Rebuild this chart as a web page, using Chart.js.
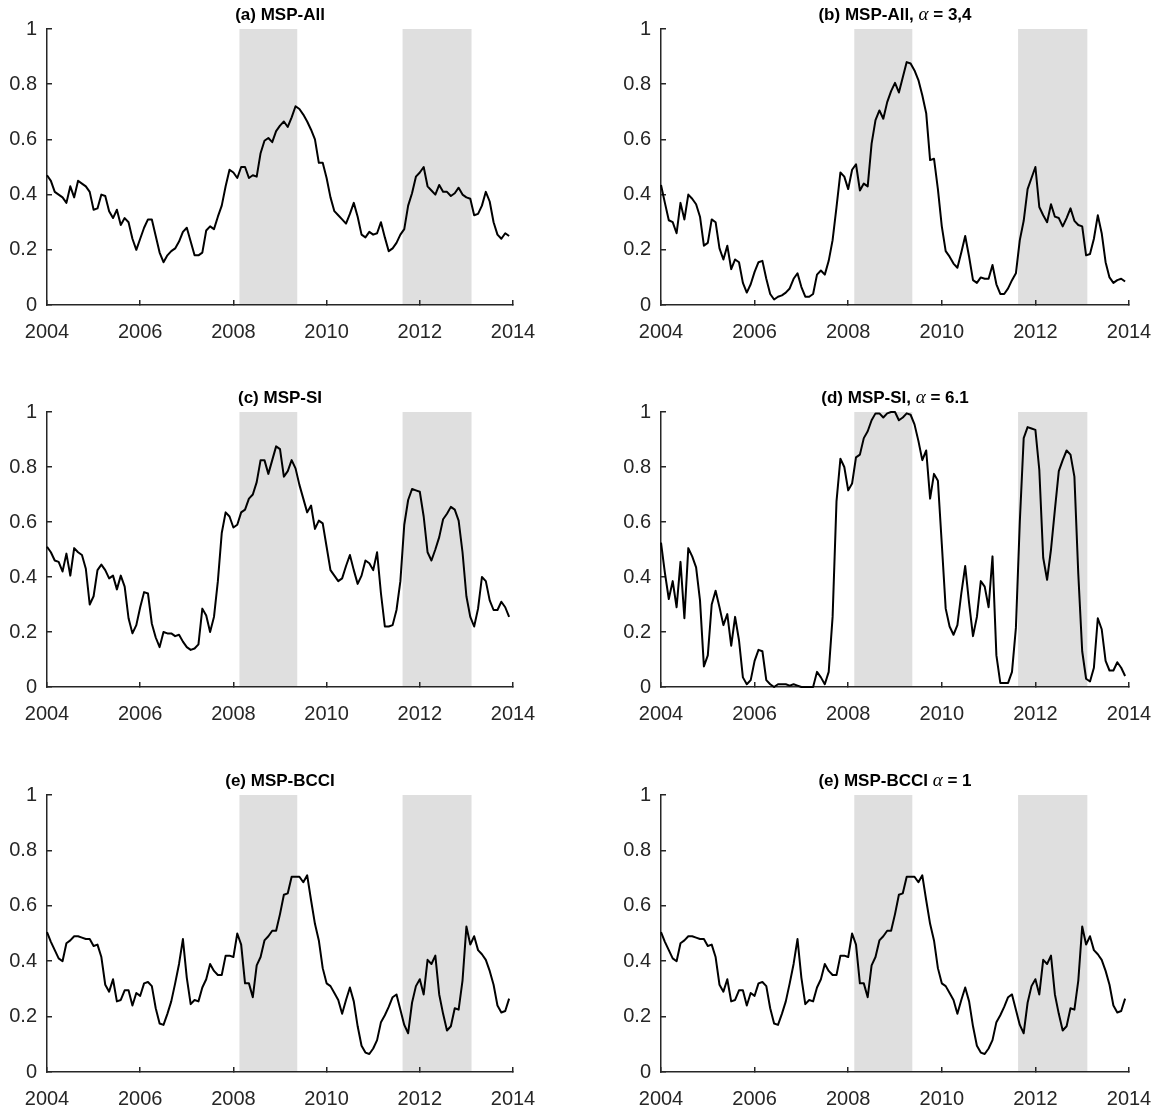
<!DOCTYPE html>
<html><head><meta charset="utf-8">
<script src="https://cdn.jsdelivr.net/npm/chart.js@4.4.1/dist/chart.umd.min.js"></script>
<style>
html,body{margin:0;padding:0;background:#fff;}
#wrap{position:relative;width:1153px;height:1109px;overflow:hidden;background:#fff;}
canvas{position:absolute;}
</style></head><body><div id="wrap"></div>
<script>
// ---- categories (monthly, Jan 2004 .. Dec 2013) ----
const months = [];
for (let i = 0; i < 120; i++) months.push(2004 + i / 12);

// ---- tick labels ----
const xTicks = [2004, 2006, 2008, 2010, 2012, 2014];
const yTicks = [0, 0.2, 0.4, 0.6, 0.8, 1];
const yTickLabels = ['0', '0.2', '0.4', '0.6', '0.8', '1'];

// ---- shaded periods ----
const shadeStart = [2008.13, 2011.63];
const shadeEnd = [2009.37, 2013.11];

// ---- series ----
const mspAll = [
  0.47, 0.45, 0.41, 0.40, 0.39, 0.37, 0.43, 0.39, 0.45, 0.44,
  0.43, 0.41, 0.345, 0.35, 0.40, 0.395, 0.34, 0.315, 0.345, 0.29,
  0.315, 0.30, 0.24, 0.20, 0.24, 0.28, 0.31, 0.31, 0.25, 0.19,
  0.155, 0.18, 0.195, 0.205, 0.23, 0.265, 0.28, 0.23, 0.18, 0.18,
  0.19, 0.27, 0.285, 0.275, 0.32, 0.36, 0.43, 0.49, 0.48, 0.46,
  0.50, 0.50, 0.46, 0.47, 0.465, 0.55, 0.595, 0.605, 0.59, 0.63,
  0.65, 0.665, 0.645, 0.68, 0.72, 0.71, 0.69, 0.665, 0.635, 0.60,
  0.515, 0.515, 0.46, 0.39, 0.34, 0.325, 0.31, 0.295, 0.33, 0.37,
  0.32, 0.255, 0.245, 0.265, 0.255, 0.26, 0.30, 0.245, 0.195, 0.205,
  0.225, 0.255, 0.275, 0.36, 0.405, 0.465, 0.48, 0.50, 0.43, 0.415,
  0.40, 0.435, 0.41, 0.41, 0.395, 0.405, 0.425, 0.40, 0.39, 0.385,
  0.325, 0.33, 0.36, 0.41, 0.375, 0.30, 0.255, 0.24, 0.26, 0.25
];
const mspAllAlpha = [
  0.435, 0.37, 0.307, 0.30, 0.26, 0.37, 0.31, 0.40, 0.385, 0.365,
  0.32, 0.215, 0.225, 0.31, 0.30, 0.205, 0.165, 0.215, 0.13, 0.165,
  0.155, 0.08, 0.045, 0.075, 0.12, 0.155, 0.16, 0.095, 0.04, 0.02,
  0.03, 0.035, 0.045, 0.06, 0.095, 0.115, 0.065, 0.03, 0.03, 0.04,
  0.11, 0.125, 0.11, 0.16, 0.235, 0.355, 0.48, 0.465, 0.42, 0.49,
  0.51, 0.415, 0.44, 0.43, 0.585, 0.67, 0.705, 0.675, 0.735, 0.775,
  0.805, 0.77, 0.825, 0.88, 0.875, 0.85, 0.815, 0.76, 0.695, 0.525,
  0.53, 0.42, 0.285, 0.195, 0.175, 0.15, 0.135, 0.19, 0.25, 0.175,
  0.09, 0.08, 0.10, 0.095, 0.095, 0.145, 0.075, 0.04, 0.04, 0.06,
  0.09, 0.115, 0.235, 0.305, 0.42, 0.46, 0.50, 0.355, 0.325, 0.30,
  0.365, 0.32, 0.315, 0.285, 0.315, 0.35, 0.305, 0.29, 0.285, 0.18,
  0.185, 0.24, 0.325, 0.26, 0.155, 0.10, 0.08, 0.09, 0.095, 0.085
];
const mspSI = [
  0.51, 0.49, 0.46, 0.455, 0.42, 0.485, 0.405, 0.505, 0.49, 0.48,
  0.43, 0.30, 0.33, 0.425, 0.445, 0.425, 0.395, 0.405, 0.355, 0.405,
  0.365, 0.25, 0.195, 0.225, 0.29, 0.345, 0.34, 0.23, 0.18, 0.145,
  0.20, 0.195, 0.195, 0.185, 0.19, 0.165, 0.145, 0.135, 0.14, 0.155,
  0.285, 0.26, 0.20, 0.255, 0.385, 0.56, 0.635, 0.62, 0.58, 0.59,
  0.635, 0.645, 0.685, 0.70, 0.745, 0.825, 0.825, 0.775, 0.825, 0.875,
  0.865, 0.765, 0.785, 0.825, 0.795, 0.735, 0.685, 0.635, 0.66, 0.575,
  0.605, 0.595, 0.51, 0.425, 0.405, 0.385, 0.395, 0.44, 0.48, 0.425,
  0.375, 0.405, 0.46, 0.45, 0.425, 0.49, 0.34, 0.22, 0.22, 0.225,
  0.28, 0.385, 0.59, 0.68, 0.72, 0.715, 0.71, 0.62, 0.49, 0.46,
  0.50, 0.545, 0.61, 0.63, 0.655, 0.645, 0.605, 0.49, 0.33, 0.255,
  0.22, 0.285, 0.40, 0.385, 0.315, 0.28, 0.28, 0.31, 0.29, 0.255
];
const mspSIAlpha = [
  0.525, 0.415, 0.32, 0.385, 0.29, 0.455, 0.25, 0.505, 0.475, 0.435,
  0.315, 0.075, 0.115, 0.30, 0.35, 0.29, 0.225, 0.265, 0.15, 0.255,
  0.17, 0.035, 0.01, 0.025, 0.095, 0.135, 0.13, 0.025, 0.01, 0.0,
  0.01, 0.01, 0.01, 0.005, 0.01, 0.005, 0.0, 0.0, 0.0, 0.0,
  0.055, 0.035, 0.01, 0.055, 0.255, 0.675, 0.83, 0.80, 0.715, 0.74,
  0.835, 0.845, 0.905, 0.93, 0.97, 0.995, 0.995, 0.98, 0.995, 1.0,
  1.0, 0.97, 0.98, 0.995, 0.99, 0.955, 0.895, 0.825, 0.86, 0.685,
  0.775, 0.75, 0.52, 0.285, 0.22, 0.19, 0.225, 0.34, 0.44, 0.305,
  0.185, 0.255, 0.385, 0.365, 0.29, 0.475, 0.115, 0.015, 0.015, 0.015,
  0.055, 0.215, 0.60, 0.905, 0.945, 0.94, 0.935, 0.79, 0.47, 0.39,
  0.50, 0.645, 0.785, 0.825, 0.86, 0.845, 0.765, 0.41, 0.13, 0.03,
  0.02, 0.07, 0.25, 0.21, 0.095, 0.06, 0.06, 0.09, 0.07, 0.04
];
const mspBCCI = [
  0.505, 0.47, 0.44, 0.41, 0.40, 0.465, 0.475, 0.49, 0.49, 0.485,
  0.48, 0.48, 0.455, 0.46, 0.415, 0.315, 0.29, 0.335, 0.255, 0.26,
  0.295, 0.295, 0.24, 0.285, 0.275, 0.32, 0.325, 0.31, 0.23, 0.175,
  0.17, 0.21, 0.255, 0.32, 0.39, 0.48, 0.34, 0.245, 0.26, 0.255,
  0.305, 0.335, 0.39, 0.365, 0.35, 0.35, 0.42, 0.42, 0.415, 0.50,
  0.46, 0.32, 0.32, 0.27, 0.385, 0.415, 0.475, 0.49, 0.51, 0.51,
  0.57, 0.64, 0.645, 0.705, 0.705, 0.705, 0.685, 0.71, 0.62, 0.535,
  0.475, 0.375, 0.32, 0.31, 0.285, 0.26, 0.21, 0.26, 0.305, 0.255,
  0.165, 0.095, 0.07, 0.065, 0.085, 0.115, 0.18, 0.205, 0.235, 0.27,
  0.28, 0.225, 0.17, 0.14, 0.25, 0.31, 0.335, 0.28, 0.405, 0.39,
  0.42, 0.28, 0.21, 0.15, 0.165, 0.23, 0.225, 0.33, 0.525, 0.46,
  0.49, 0.44, 0.425, 0.405, 0.365, 0.315, 0.24, 0.215, 0.22, 0.265
];
const mspBCCIAlpha1 = mspBCCI.slice(); // panel looks identical in the reference

// ---- titles (text parts; b = bold sans, a = italic greek) ----
const titleTexts = [
  [['b', '(a) MSP-All']],
  [['b', '(b) MSP-All, '], ['a', '\u03b1'], ['b', ' = 3,4']],
  [['b', '(c) MSP-SI']],
  [['b', '(d) MSP-SI, '], ['a', '\u03b1'], ['b', ' = 6.1']],
  [['b', '(e) MSP-BCCI']],
  [['b', '(e) MSP-BCCI '], ['a', '\u03b1'], ['b', ' = 1']]
];
const seriesList = [mspAll, mspAllAlpha, mspSI, mspSIAlpha, mspBCCI, mspBCCIAlpha1];

// ---- layout ----
const colGeom = [
  {left: 0, width: 576, yW: 47, padR: 63},
  {left: 576, width: 577, yW: 85, padR: 24}
];
const rowGeom = [
  {top: 0, height: 383, bottom: 305},
  {top: 383, height: 383, bottom: 304},
  {top: 766, height: 343, bottom: 306}
];
const FONT_B = 'bold 17px "Liberation Sans", Arial, sans-serif';
const FONT_A = 'italic 19px "Liberation Serif", "DejaVu Serif", serif';

const shadePlugin = {
  id: 'shade',
  beforeDraw(chart) {
    const {ctx, chartArea: a, scales: {x}} = chart;
    ctx.save();
    ctx.fillStyle = '#dfdfdf';
    for (let k = 0; k < shadeStart.length; k++) {
      const x1 = x.getPixelForValue(shadeStart[k]);
      const x2 = x.getPixelForValue(shadeEnd[k]);
      ctx.fillRect(x1, a.top, x2 - x1, a.bottom - a.top);
    }
    ctx.restore();
  }
};
const titlePlugin = {
  id: 'mtitle',
  afterDraw(chart, args, opts) {
    const parts = opts.parts || [];
    const {ctx, chartArea: a} = chart;
    ctx.save();
    let total = 0;
    const widths = parts.map(p => {
      ctx.font = p[0] === 'a' ? FONT_A : FONT_B;
      const w = ctx.measureText(p[1]).width;
      total += w;
      return w;
    });
    let x = (a.left + a.right) / 2 - total / 2;
    const y = a.top - 9;
    ctx.fillStyle = '#000';
    ctx.textBaseline = 'alphabetic';
    ctx.textAlign = 'left';
    parts.forEach((p, i) => {
      ctx.font = p[0] === 'a' ? FONT_A : FONT_B;
      ctx.fillText(p[1], x, y);
      x += widths[i];
    });
    ctx.restore();
  }
};

const wrap = document.getElementById('wrap');
for (let p = 0; p < 6; p++) {
  const col = colGeom[p % 2], row = rowGeom[Math.floor(p / 2)];
  const cv = document.createElement('canvas');
  cv.width = col.width; cv.height = row.height;
  cv.style.left = col.left + 'px'; cv.style.top = row.top + 'px';
  cv.style.width = col.width + 'px'; cv.style.height = row.height + 'px';
  wrap.appendChild(cv);
  const series = seriesList[p];
  const tickFont = {family: '"Liberation Sans", Arial, sans-serif', size: 20};
  const xH = row.height - row.bottom;
  new Chart(cv, {
    type: 'line',
    data: {
      datasets: [{
        data: months.map((m, i) => ({x: m, y: series[i]})),
        borderColor: '#000', borderWidth: 2, pointRadius: 0, tension: 0,
        fill: false, clip: 6, borderJoinStyle: 'round'
      }]
    },
    options: {
      responsive: false, animation: false, devicePixelRatio: 1,
      layout: {padding: {top: 29, right: col.padR, left: 0, bottom: 0}},
      plugins: {
        legend: {display: false}, tooltip: {enabled: false}, title: {display: false},
        mtitle: {parts: titleTexts[p]}
      },
      scales: {
        x: {
          type: 'linear', min: 2004, max: 2014,
          afterBuildTicks: s => { s.ticks = xTicks.map(v => ({value: v})); },
          ticks: {callback: v => String(v), color: '#262626', font: tickFont, padding: 20, maxRotation: 0, autoSkip: false},
          grid: {display: true, drawOnChartArea: false, drawTicks: true, tickLength: -5, color: '#262626', lineWidth: 1.5},
          border: {display: true, color: '#262626', width: 1.5},
          afterFit: s => { s.height = xH; s.paddingLeft = 0; s.paddingRight = 0; }
        },
        y: {
          type: 'linear', min: 0, max: 1,
          afterBuildTicks: s => { s.ticks = yTicks.map(v => ({value: v})); },
          ticks: {callback: (v, i) => yTickLabels[i], color: '#262626', font: tickFont, padding: 15, autoSkip: false},
          grid: {display: true, drawOnChartArea: false, drawTicks: true, tickLength: -5, color: '#262626', lineWidth: 1.5},
          border: {display: true, color: '#262626', width: 1.5},
          afterFit: s => { s.width = col.yW; s.paddingTop = 0; s.paddingBottom = 0; }
        }
      }
    },
    plugins: [shadePlugin, titlePlugin]
  });
}
</script></body></html>
